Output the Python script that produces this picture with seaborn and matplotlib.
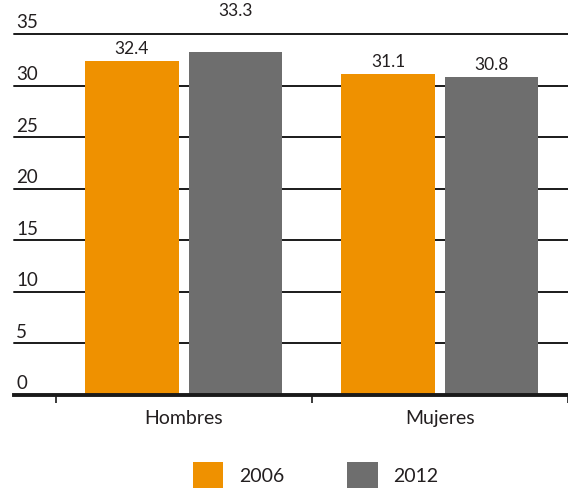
import pandas as pd
import seaborn as sns
import matplotlib.pyplot as plt
from matplotlib.patches import Patch

# data
groups = ['Hombres', 'Mujeres']
years = ['2006', '2012']
values_2006 = [32.4, 31.1]
values_2012 = [33.3, 30.8]
yticks = [0, 5, 10, 15, 20, 25, 30, 35]
colors = ['#EF9100', '#6E6E6E']

df = pd.DataFrame({
    'grupo': groups * 2,
    'anio': [years[0]] * 2 + [years[1]] * 2,
    'valor': values_2006 + values_2012,
})

sns.set_theme(style='white')
plt.rcParams['font.family'] = ['Lato', 'DejaVu Sans']
txt = '#231F20'

fig = plt.figure(figsize=(5.68, 4.88), dpi=100)
ax = fig.add_axes([14 / 568, 1 - 395 / 488, 1 - 14 / 568, (395 - 34) / 488])

# gridlines behind bars
for t in yticks[1:]:
    ax.axhline(t, color='#1a1a1a', lw=1.4, zorder=0, clip_on=False)

sns.barplot(data=df, x='grupo', y='valor', hue='anio', palette=colors,
            width=0.808, gap=0.095, legend=False, ax=ax, zorder=2,
            saturation=1, linewidth=0)

# value labels (33.3 is lifted above the top gridline in the original)
for cont in ax.containers:
    for bar in cont:
        h = bar.get_height()
        y = h + 0.4 if h < 33 else h + 3.2
        ax.text(bar.get_x() + bar.get_width() / 2, y, f'{h:.1f}',
                ha='center', va='bottom', fontsize=12.5, color=txt, clip_on=False)

ax.set_ylim(0, 35)
ax.set_xlim(-0.662, 1.469)
ax.set_yticks([])
ax.set_xlabel('')
ax.set_ylabel('')

for t in yticks:
    ax.text(0.004, t + 0.25, str(t), transform=ax.get_yaxis_transform(),
            ha='left', va='bottom', fontsize=13.5, color=txt)

for s in ['top', 'right', 'left']:
    ax.spines[s].set_visible(False)
ax.spines['bottom'].set_linewidth(2.8)
ax.spines['bottom'].set_color('#1a1a1a')
ax.spines['bottom'].set_zorder(3)

ax.set_xticks([0, 1])
ax.set_xticklabels(groups, fontsize=14, color=txt)
ax.tick_params(axis='x', which='major', length=0, pad=11)
ax.set_xticks([-0.5, 0.5, 1.5], minor=True)
ax.tick_params(axis='x', which='minor', bottom=True, length=6, width=1.2,
               color='#1a1a1a', direction='out')

handles = [Patch(facecolor=c, edgecolor='none', label=y) for c, y in zip(colors, years)]
fig.legend(handles=handles, loc='center', bbox_to_anchor=(0.556, 0.026), ncol=2,
           frameon=False, fontsize=14, handlelength=1.55, handleheight=1.7,
           columnspacing=3.25, handletextpad=0.8)
for t in fig.legends[0].get_texts():
    t.set_color(txt)

fig.savefig('out.png', dpi=100)
